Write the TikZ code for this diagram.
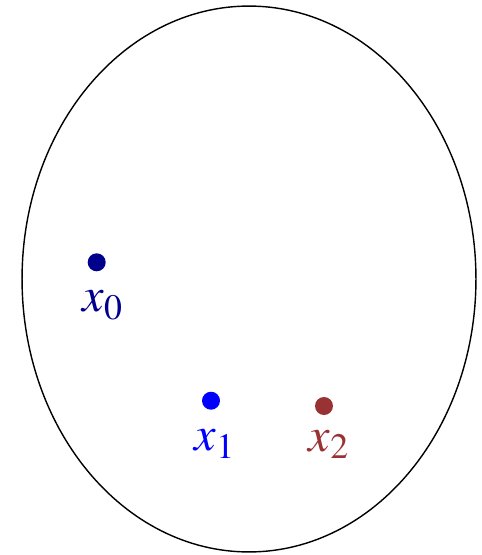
\documentclass[tikz,border=0pt]{standalone}
\usepackage{mathptmx}
\usetikzlibrary{calc, shapes.geometric}
\definecolor{cnavy}{RGB}{0,0,140}
\definecolor{cblue}{RGB}{0,0,255}
\definecolor{cbrown}{RGB}{153,51,51}
\tikzset{
  every picture/.style={line width=0.8pt},
  dot/.style={circle, fill=#1, draw=none, minimum size=0.36cm, inner sep=0pt},
  lbl/.style={text=#1, inner sep=0pt, anchor=base, font=\fontsize{27.5}{31}\selectfont},
}
\begin{document}
\begin{tikzpicture}[x=0.02cm, y=-0.02cm]
  \useasboundingbox (0,0) rectangle (481,555);
  \node[draw, ellipse, minimum width=9.08cm, minimum height=10.92cm, inner sep=0pt] (dom) at (249,279) {};
  \node[dot=cnavy] (p0) at (96.7,262.3) {};
  \node[dot=cblue] (p1) at (211,400.7) {};
  \node[dot=cbrown] (p2) at (324,406) {};
  \node[lbl=cnavy] (l0) at ($(p0)+(6,49.5)$) {$x_0$};
  \node[lbl=cblue] (l1) at ($(p1)+(4,50)$) {$x_1$};
  \node[lbl=cbrown] (l2) at ($(p2)+(5,45)$) {$x_2$};
\end{tikzpicture}
\end{document}
